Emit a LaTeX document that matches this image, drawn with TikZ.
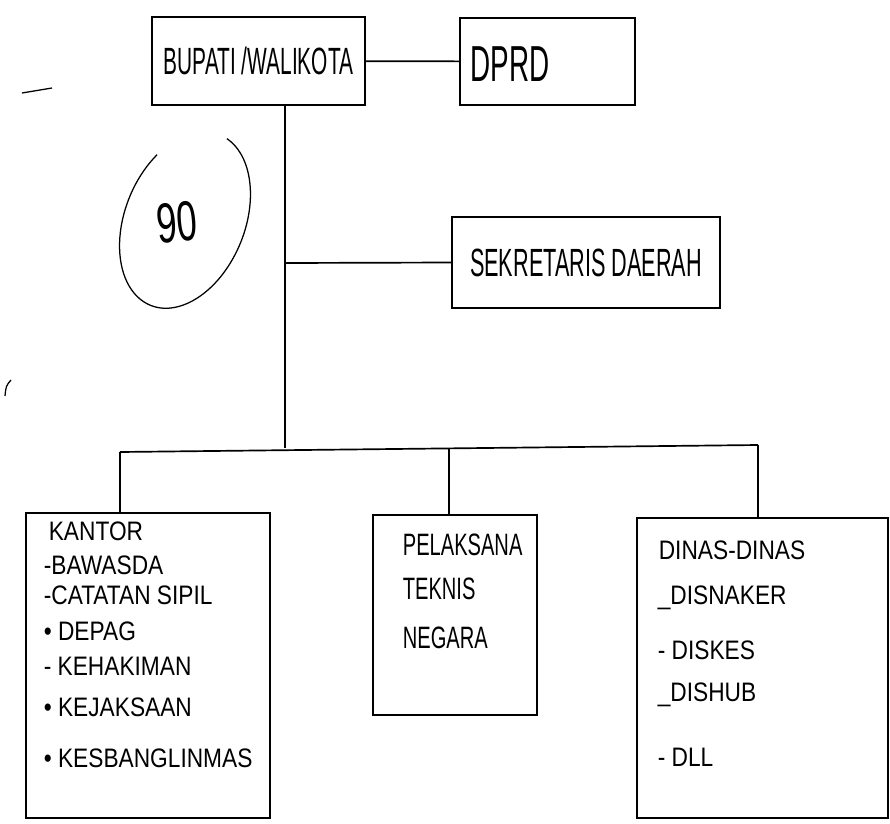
\documentclass[tikz,border=0pt]{standalone}
\usepackage{fontspec}
\setmainfont{Liberation Sans}
\newfontfamily\handc[FakeStretch=0.55]{Liberation Sans}
\newfontfamily\handn[FakeStretch=0.65]{Liberation Sans}
\newfontfamily\handw[FakeStretch=0.85]{Liberation Sans}
\begin{document}
\begin{tikzpicture}[x=0.025cm,y=-0.025cm, line width=1.2pt,
  box/.style={draw, rectangle, inner sep=0pt},
  lst/.style={anchor=west, inner sep=0pt, font=\handw\fontsize{19}{21}\selectfont},
  lstn/.style={anchor=west, inner sep=0pt, font=\handn\fontsize{22}{24}\selectfont},
  note/.style={line width=0.9pt}]
\useasboundingbox (0,0) rectangle (890,824);
\fill[white] (0,0) rectangle (890,824);

% top boxes
\node[box, font=\handc\fontsize{27}{30}\selectfont, minimum width=5.325cm, minimum height=2.2cm] (bup) at (258.5,61) {BUPATI /WALIKOTA};
\node[box, minimum width=4.375cm, minimum height=2.175cm] (dprd) at (547.5,61.5) {};
\node[anchor=west, inner sep=0pt, font=\handc\fontsize{36}{40}\selectfont] (dprdt) at (470,64) {DPRD};
\node[box, font=\handc\fontsize{28}{31}\selectfont, minimum width=6.7cm, minimum height=2.275cm] (sek) at (586,262.5) {SEKRETARIS DAERAH};

% bottom boxes
\node[box, minimum width=6.1cm, minimum height=7.625cm] (kan) at (148,665.5) {};
\node[box, minimum width=4.1cm, minimum height=5cm] (ptn) at (455,615) {};
\node[box, minimum width=6.275cm, minimum height=7.5cm] (din) at (762.5,668) {};

% KANTOR list
\node[lst] (k0) at (48,531) {KANTOR};
\node[lst] (k1) at (43,565) {-BAWASDA};
\node[lst] (k2) at (43,595) {-CATATAN SIPIL};
\node[lst] (k3) at (43,631) {• DEPAG};
\node[lst] (k4) at (43,666) {- KEHAKIMAN};
\node[lst] (k5) at (43,707) {• KEJAKSAAN};
\node[lst] (k6) at (43,758) {• KESBANGLINMAS};

% Pelaksana Teknis Negara
\node[lstn] (p1) at (402,545) {PELAKSANA};
\node[lstn] (p2) at (402,589) {TEKNIS};
\node[lstn] (p3) at (402,638) {NEGARA};

% Dinas list
\node[lst] (d0) at (658,550) {DINAS-DINAS};
\node[lst] (d1) at (657,598) {\_DISNAKER};
\node[lst] (d2) at (657,650) {- DISKES};
\node[lst] (d3) at (657,695) {\_DISHUB};
\node[lst] (d4) at (657,757) {- DLL};

% connectors
\coordinate (jS) at (285,263);
\coordinate (jB) at (285,448);
\coordinate (bL) at (120,452);
\coordinate (bM) at (449,449);
\coordinate (bR) at (758,445);
\draw (bup) -- (dprd);
\draw (bup.south -| jB) -- (jB);
\draw (jS) -- (sek.west);
\draw (bL) -- (bR);
\draw (bL) -- (kan.north -| bL);
\draw (bM) -- (ptn.north -| bM);
\draw (bR) -- (din.north -| bR);

% circled annotation
\begin{scope}[shift={(185,220)}, rotate=-22]
  \draw[note] (82:1.5cm and 2.3cm) arc[start angle=82, end angle=-213, x radius=1.5cm, y radius=2.3cm];
\end{scope}
\node[font=\handn\fontsize{40}{44}\selectfont, rotate=5] (n90) at (177,222) {90};

% stray pen marks
\draw[note] (22,93) -- (52,88);
\draw[note] (5,396) .. controls (6,386) .. (11,380);
\end{tikzpicture}
\end{document}
